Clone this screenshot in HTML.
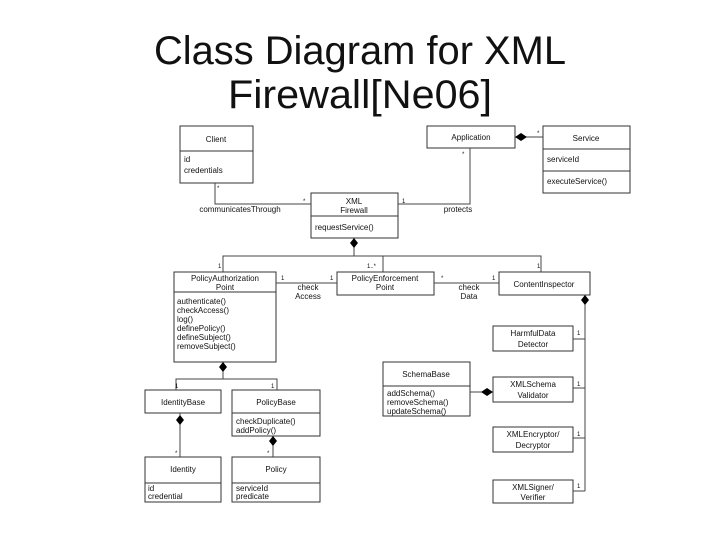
<!DOCTYPE html>
<html><head><meta charset="utf-8"><style>
html,body{margin:0;padding:0;background:#fff;}
svg text{font-family:"Liberation Sans",Arial,sans-serif;fill:#111;}
</style></head><body>
<svg width="720" height="540" viewBox="0 0 720 540" xmlns="http://www.w3.org/2000/svg">
<text x="360" y="64" font-size="40" text-anchor="middle" textLength="412" lengthAdjust="spacingAndGlyphs">Class Diagram for XML</text>
<text x="360" y="108" font-size="40" text-anchor="middle" textLength="264" lengthAdjust="spacingAndGlyphs">Firewall[Ne06]</text>

<g fill="#fff" stroke="#333" stroke-width="1">
<rect x="180" y="126" width="73" height="57"/><line x1="180" y1="151" x2="253" y2="151"/>
<rect x="427" y="126" width="88" height="22"/>
<rect x="543" y="126" width="87" height="67"/><line x1="543" y1="149" x2="630" y2="149"/><line x1="543" y1="171" x2="630" y2="171"/>
<rect x="311" y="193" width="87" height="45"/><line x1="311" y1="216" x2="398" y2="216"/>
<rect x="174" y="272" width="102" height="90"/><line x1="174" y1="292" x2="276" y2="292"/>
<rect x="337" y="272" width="97" height="23"/>
<rect x="499" y="272" width="91" height="23"/>
<rect x="493" y="326" width="80" height="25"/>
<rect x="145" y="390" width="76" height="23"/>
<rect x="232" y="390" width="88" height="46"/><line x1="232" y1="413" x2="320" y2="413"/>
<rect x="145" y="457" width="76" height="45"/><line x1="145" y1="483" x2="221" y2="483"/>
<rect x="232" y="457" width="88" height="45"/><line x1="232" y1="483" x2="320" y2="483"/>
<rect x="383" y="362" width="87" height="54"/><line x1="383" y1="386" x2="470" y2="386"/>
<rect x="493" y="377" width="80" height="25"/>
<rect x="493" y="427" width="80" height="25"/>
<rect x="493" y="480" width="80" height="23"/>
</g>

<g fill="none" stroke="#444" stroke-width="1">
<polyline points="215,183 215,204 311,204"/>
<polyline points="398,204 470,204 470,148"/>
<line x1="515" y1="137" x2="543" y2="137"/>
<polyline points="354,240 354,256"/>
<polyline points="223,272 223,256 541,256 541,272"/>
<line x1="383" y1="256" x2="383" y2="272"/>
<line x1="276" y1="283" x2="337" y2="283"/>
<line x1="434" y1="283" x2="499" y2="283"/>
<polyline points="585,295 585,491"/>
<line x1="573" y1="339" x2="585" y2="339"/>
<line x1="573" y1="388" x2="585" y2="388"/>
<line x1="573" y1="438" x2="585" y2="438"/>
<line x1="573" y1="491" x2="585" y2="491"/>
<line x1="470" y1="392" x2="493" y2="392"/>
<line x1="223" y1="362" x2="223" y2="379"/>
<polyline points="176,390 176,379 277,379 277,390"/>
<line x1="180" y1="413" x2="180" y2="457"/>
<line x1="273" y1="436" x2="273" y2="457"/>
</g>
<g fill="#000">
<polygon points="515,137 521,133 527,137 521,141"/>
<polygon points="354,238 358,243 354,248 350,243"/>
<polygon points="585,295 589,300 585,305 581,300"/>
<polygon points="223,362 227,367 223,372 219,367"/>
<polygon points="180,415 184,420 180,425 176,420"/>
<polygon points="273,436 277,441 273,446 269,441"/>
<polygon points="481,392 487,388 493,392 487,396"/>
</g>

<g font-size="8" text-anchor="middle">
<text x="216" y="142">Client</text>
<text x="471" y="140">Application</text>
<text x="586" y="141">Service</text>
<text x="354" y="204">XML</text><text x="354" y="213">Firewall</text>
<text x="225" y="281">PolicyAuthorization</text><text x="225" y="290">Point</text>
<text x="385" y="281">PolicyEnforcement</text><text x="385" y="290">Point</text>
<text x="544" y="287">ContentInspector</text>
<text x="533" y="336">HarmfulData</text><text x="533" y="347">Detector</text>
<text x="183" y="405">IdentityBase</text>
<text x="276" y="405">PolicyBase</text>
<text x="183" y="472">Identity</text>
<text x="276" y="472">Policy</text>
<text x="426" y="377">SchemaBase</text>
<text x="533" y="387">XMLSchema</text><text x="533" y="398">Validator</text>
<text x="533" y="437">XMLEncryptor/</text><text x="533" y="448">Decryptor</text>
<text x="533" y="490">XMLSigner/</text><text x="533" y="500">Verifier</text>
<text x="240" y="212">communicatesThrough</text>
<text x="458" y="212">protects</text>
<text x="308" y="290">check</text><text x="308" y="299">Access</text>
<text x="469" y="290">check</text><text x="469" y="299">Data</text>
</g>
<g font-size="8">
<text x="184" y="162">id</text><text x="184" y="173">credentials</text>
<text x="547" y="162">serviceId</text>
<text x="547" y="184">executeService()</text>
<text x="315" y="230">requestService()</text>
<text x="177" y="304">authenticate()</text>
<text x="177" y="313">checkAccess()</text>
<text x="177" y="322">log()</text>
<text x="177" y="331">definePolicy()</text>
<text x="177" y="340">defineSubject()</text>
<text x="177" y="349">removeSubject()</text>
<text x="236" y="424">checkDuplicate()</text>
<text x="236" y="433">addPolicy()</text>
<text x="148" y="491">id</text><text x="148" y="499">credential</text>
<text x="236" y="491">serviceId</text><text x="236" y="499">predicate</text>
<text x="387" y="396">addSchema()</text>
<text x="387" y="405">removeSchema()</text>
<text x="387" y="414">updateSchema()</text>
</g>
<g font-size="6">
<text x="217" y="190">*</text><text x="303" y="203">*</text><text x="402" y="203">1</text>
<text x="462" y="156">*</text><text x="537" y="135">*</text>
<text x="218" y="268">1</text><text x="367" y="268">1..*</text><text x="537" y="268">1</text>
<text x="281" y="280">1</text><text x="330" y="280">1</text>
<text x="441" y="280">*</text><text x="492" y="280">1</text>
<text x="577" y="335">1</text><text x="577" y="386">1</text><text x="577" y="436">1</text><text x="577" y="488">1</text>
<text x="175" y="388">1</text><text x="271" y="388">1</text>
<text x="175" y="455">*</text><text x="267" y="455">*</text>
</g>
</svg>
</body></html>
